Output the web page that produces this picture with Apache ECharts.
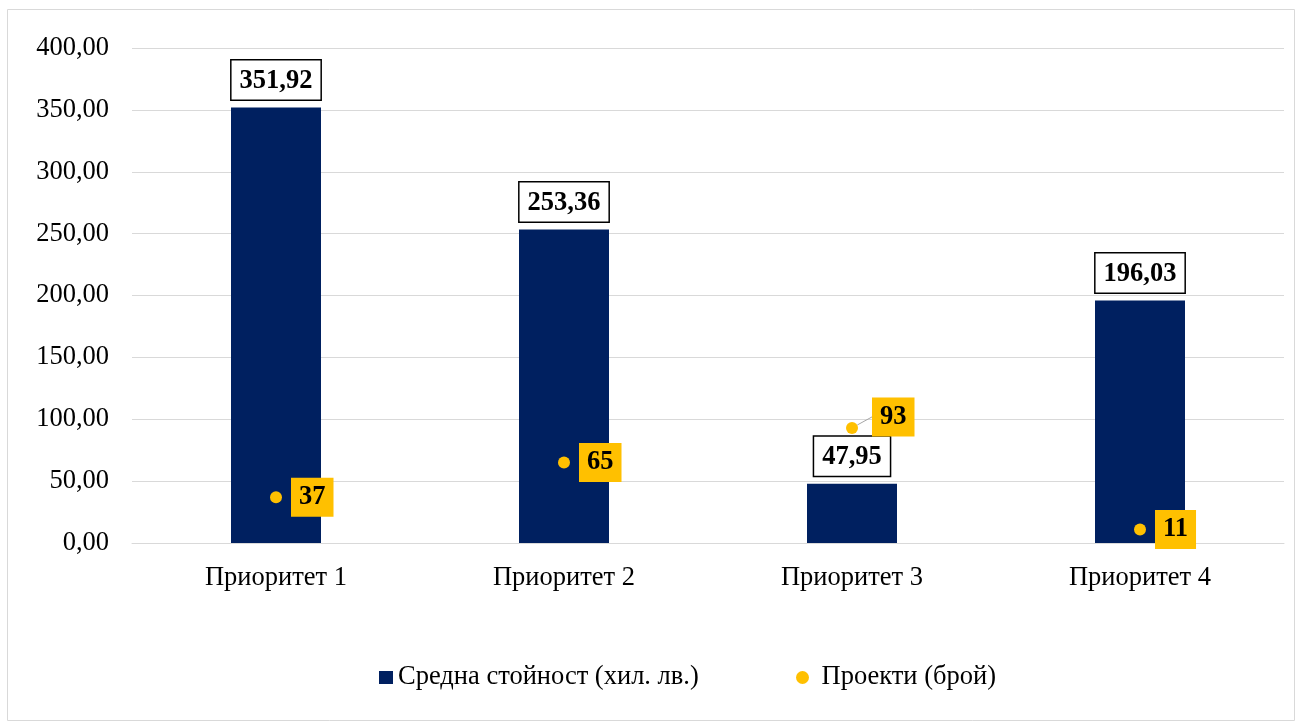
<!DOCTYPE html>
<html><head><meta charset="utf-8">
<script src="https://cdn.jsdelivr.net/npm/echarts@6/dist/echarts.min.js"></script>
<style>html,body{margin:0;padding:0;background:#fff}#c{width:1301px;height:727px}</style>
</head><body><div id="c"></div>
<script>
const categories = ['Приоритет 1', 'Приоритет 2', 'Приоритет 3', 'Приоритет 4'];
const avgValue = [351.92, 253.36, 47.95, 196.03];
const projects = [37, 65, 93, 11];
const seriesNames = ['Средна стойност (хил. лв.)', 'Проекти (брой)'];
const yTicks = {min: 0, max: 400, interval: 50};

const FONT = "'Liberation Serif', 'Times New Roman', serif";
const FS = 26.5;
const fmt = v => v.toFixed(2).replace('.', ',');

const chart = echarts.init(document.getElementById('c'), null, {renderer: 'canvas'});
chart.setOption({
  animation: false,
  textStyle: {fontFamily: FONT},
  graphic: [{type: 'rect', shape: {x: 7.5, y: 9.5, width: 1287, height: 711}, style: {fill: 'none', stroke: '#d9d9d9', lineWidth: 1}, z: -1}],
  grid: {left: 132, right: 17, top: 48, bottom: 184},
  legend: [
    {
      top: 659, left: 374, itemWidth: 14, itemHeight: 13, itemGap: 0,
      textStyle: {fontFamily: FONT, fontSize: FS, color: '#000'},
      data: [{name: seriesNames[0], icon: 'rect'}]
    },
    {
      top: 659, left: 791, itemWidth: 28, itemHeight: 13, itemGap: 0,
      textStyle: {fontFamily: FONT, fontSize: FS, color: '#000'},
      data: [{name: seriesNames[1], icon: 'circle'}]
    }
  ],
  xAxis: {
    type: 'category', data: categories,
    axisLine: {lineStyle: {color: '#d9d9d9'}}, axisTick: {show: false},
    axisLabel: {fontFamily: FONT, fontSize: FS, color: '#000', margin: 22}
  },
  yAxis: {
    type: 'value', min: yTicks.min, max: yTicks.max, interval: yTicks.interval,
    axisLine: {show: false}, axisTick: {show: false},
    splitLine: {lineStyle: {color: '#d9d9d9', width: 1}},
    axisLabel: {fontFamily: FONT, fontSize: FS, color: '#000', margin: 23, formatter: v => fmt(v)}
  },
  series: [
    {
      name: seriesNames[0], type: 'bar', data: avgValue, barWidth: 90,
      itemStyle: {color: '#002060'},
      label: {
        show: true, position: 'top', distance: 8,
        formatter: p => fmt(p.value),
        fontFamily: FONT, fontSize: FS, fontWeight: 'bold', color: '#000',
        backgroundColor: '#fff', borderColor: '#000', borderWidth: 1.5,
        padding: [7, 8, 5, 8]
      }
    },
    {
      name: seriesNames[1], type: 'scatter', symbol: 'circle', symbolSize: 12,
      data: projects.map((v, i) => i === 2 ? {value: v, labelLine: {show: true}} : v),
      itemStyle: {color: '#FFC000', opacity: 1}, z: 5,
      label: {
        show: true, position: 'right', distance: 9,
        fontFamily: FONT, fontSize: FS, fontWeight: 'bold', color: '#000',
        backgroundColor: '#FFC000', padding: [7, 8, 5, 8]
      },
      labelLine: {show: false, lineStyle: {color: '#a6a6a6', width: 1}},
      labelLayout: p => p.dataIndex === 2 ? {dx: 5, dy: -11} : {}
    }
  ]
});
</script></body></html>
